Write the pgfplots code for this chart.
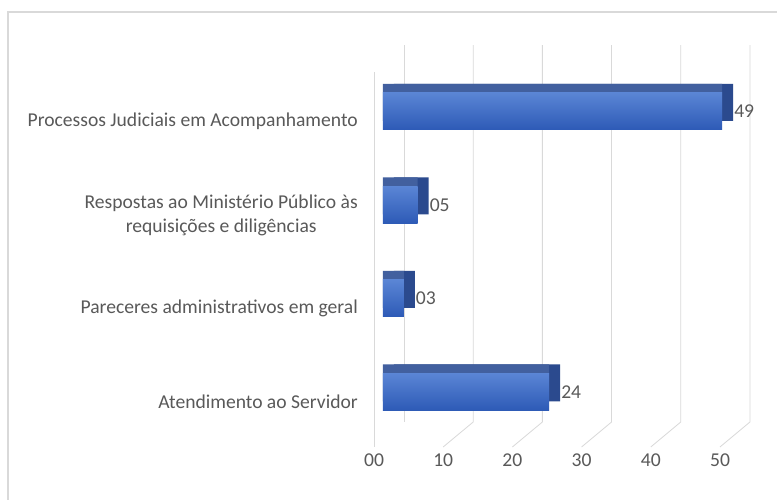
\documentclass[border=0pt]{standalone}
\usepackage{fontspec}
\setmainfont{Carlito}
\usepackage{pgfplots}
\pgfplotsset{compat=1.18}
\definecolor{txt}{HTML}{595959}
\definecolor{grd}{HTML}{D9D9D9}
\definecolor{frontT}{HTML}{5A85D5}
\definecolor{frontB}{HTML}{2D5AB6}
\definecolor{topF}{HTML}{42609F}
\definecolor{sideF}{HTML}{2B4A8E}
\begin{document}
\begin{tikzpicture}
\useasboundingbox (0,0) rectangle (777pt,500pt);
\fill[white] (0,0) rectangle (777pt,500pt);
\draw[grd, line width=1.2pt] (8pt,-10pt) -- (8pt,488pt) -- (800pt,488pt);
\begin{axis}[
 at={(362.24pt,51.9pt)}, anchor=south west,
 scale only axis, width=401.36pt, height=403.92pt,
 xmin=-3, xmax=55, ymin=-0.6, ymax=3.72,
 axis line style={draw=none}, tick style={draw=none},
 xbar, bar width=37pt,
 ytick={0,1,2,3},
 yticklabels={Atendimento ao Servidor, Pareceres administrativos em geral, {Respostas ao Ministério Público às\\requisições e diligências}, Processos Judiciais em Acompanhamento},
 yticklabel style={align=center, font=\fontsize{19.6}{24}\selectfont, text=txt, inner sep=0pt, xshift=0pt, yshift=-10pt},
 xtick={-1.3,8.7,18.7,28.7,38.7,48.7},
 xticklabels={00,10,20,30,40,50},
 xticklabel style={font=\fontsize{19.6}{22}\selectfont, text=txt, inner sep=0pt, yshift=-5pt},
 /pgf/number format/assume math mode=true,
 clip=false,
 nodes near coords style={anchor=west, xshift=11pt, inner sep=1pt, font=\fontsize{19.6}{22}\selectfont, text=txt},
]
\draw[grd, line width=0.8pt] (axis cs:-1.3,3.42) -- (axis cs:-1.3,-0.588);
\draw[grd, line width=0.8pt] (axis cs:3.03,3.711) -- (axis cs:3.03,-0.321);
\draw[grd, line width=0.8pt] (axis cs:13.03,3.711) -- (axis cs:13.03,-0.321) -- (axis cs:8.7,-0.588);
\draw[grd, line width=0.8pt] (axis cs:23.03,3.711) -- (axis cs:23.03,-0.321) -- (axis cs:18.7,-0.588);
\draw[grd, line width=0.8pt] (axis cs:33.03,3.711) -- (axis cs:33.03,-0.321) -- (axis cs:28.7,-0.588);
\draw[grd, line width=0.8pt] (axis cs:43.03,3.711) -- (axis cs:43.03,-0.321) -- (axis cs:38.7,-0.588);
\draw[grd, line width=0.8pt] (axis cs:53.03,3.711) -- (axis cs:53.03,-0.321) -- (axis cs:48.7,-0.588);
\addplot[fill=sideF, draw=none, xshift=11pt, bar shift=9pt] coordinates {(24,0) (3,1) (5,2) (49,3)};
\addplot[fill=topF, draw=none, bar shift=9pt] coordinates {(24,0) (3,1) (5,2) (49,3)};
\addplot[draw=none, top color=frontT, bottom color=frontB, bar shift=0pt, nodes near coords, point meta=explicit symbolic] coordinates {(24,0)[24]};
\addplot[draw=none, top color=frontT, bottom color=frontB, bar shift=0pt, nodes near coords, point meta=explicit symbolic] coordinates {(3,1)[03]};
\addplot[draw=none, top color=frontT, bottom color=frontB, bar shift=0pt, nodes near coords, point meta=explicit symbolic] coordinates {(5,2)[05]};
\addplot[draw=none, top color=frontT, bottom color=frontB, bar shift=0pt, nodes near coords, point meta=explicit symbolic] coordinates {(49,3)[49]};
\end{axis}
\end{tikzpicture}
\end{document}
